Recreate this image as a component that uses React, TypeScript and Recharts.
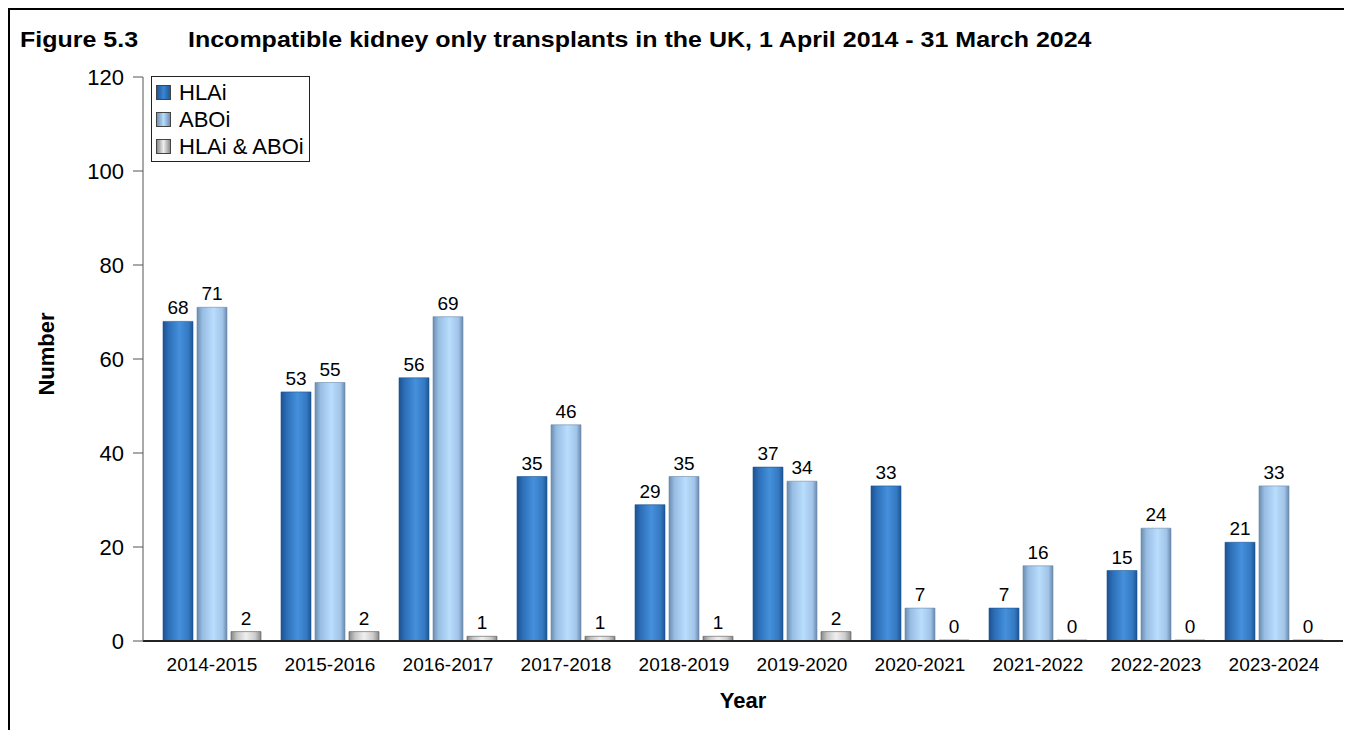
import React from "react";
import { BarChart, Bar, XAxis, YAxis, LabelList, Legend } from "recharts";

const years = [
  "2014-2015", "2015-2016", "2016-2017", "2017-2018", "2018-2019",
  "2019-2020", "2020-2021", "2021-2022", "2022-2023", "2023-2024",
];
const hlai = [68, 53, 56, 35, 29, 37, 33, 7, 15, 21];
const aboi = [71, 55, 69, 46, 35, 34, 7, 16, 24, 33];
const both = [2, 2, 1, 1, 1, 2, 0, 0, 0, 0];
const yTicks = [0, 20, 40, 60, 80, 100, 120];
const seriesOrder = ["hlai", "aboi", "both"];

const data = years.map((year, i) => ({ year, hlai: hlai[i], aboi: aboi[i], both: both[i] }));

const FONT = "'Liberation Sans', Arial, sans-serif";

const swatch: Record<string, string> = {
  hlai: "linear-gradient(90deg,#1d5797,#3a85d2 50%,#1f5a98)",
  aboi: "linear-gradient(90deg,#6f90b3,#b8dcfc 50%,#6f8fb0)",
  both: "linear-gradient(90deg,#8a8a8a,#eeeeee 50%,#8c8c8c)",
};

const renderLegend = (props: any) => {
  const items = [...(props.payload || [])].sort(
    (a: any, b: any) => seriesOrder.indexOf(a.dataKey) - seriesOrder.indexOf(b.dataKey)
  );
  return (
    <div style={{ border: "1px solid #222", background: "#fff", padding: "2px 5px 1px 4px", whiteSpace: "nowrap" }}>
      {items.map((p: any) => (
        <div key={p.dataKey} style={{ display: "flex", alignItems: "center", height: 27, fontSize: 22, color: "#000", fontFamily: FONT }}>
          <span style={{ width: 13, height: 13, border: "1px solid #444", background: swatch[p.dataKey], marginRight: 8, display: "inline-block" }} />
          {p.value}
        </div>
      ))}
    </div>
  );
};

export default function App() {
  return (
    <div style={{ position: "relative", width: 1344, height: 722, fontFamily: FONT, background: "#fff" }}>
      <div style={{ position: "absolute", left: -1, top: -1, right: 0, bottom: 0, borderTop: "3px solid #000", borderLeft: "3px solid #000" }} />
      <div style={{ position: "absolute", left: 12, top: 19, fontSize: 25, fontWeight: "bold", whiteSpace: "nowrap", transform: "scaleY(0.86)", transformOrigin: "left top" }}>
        <span style={{ display: "inline-block", width: 168 }}>Figure 5.3</span>
        <span>Incompatible kidney only transplants in the UK, 1 April 2014 - 31 March 2024</span>
      </div>
      <div style={{ position: "absolute", left: 39 - 60, top: 346 - 13, width: 120, textAlign: "center", fontSize: 22, fontWeight: "bold", transform: "rotate(-90deg)" }}>
        Number
      </div>
      <div style={{ position: "absolute", left: 735 - 60, top: 680, width: 120, textAlign: "center", fontSize: 22, fontWeight: "bold" }}>
        Year
      </div>
      <BarChart
        width={1344}
        height={722}
        data={data}
        margin={{ top: 69, right: 9, bottom: 29, left: 0 }}
        barSize={30}
        barGap={4}
        style={{ position: "absolute", left: 0, top: 0 }}
      >
        <defs>
          <linearGradient id="gHlai" x1="0" y1="0" x2="1" y2="0">
            <stop offset="0" stopColor="#1b5290" />
            <stop offset="0.18" stopColor="#2c6db6" />
            <stop offset="0.55" stopColor="#4590dc" />
            <stop offset="0.85" stopColor="#3479c2" />
            <stop offset="1" stopColor="#1d5594" />
          </linearGradient>
          <linearGradient id="gAboi" x1="0" y1="0" x2="1" y2="0">
            <stop offset="0" stopColor="#6a8bae" />
            <stop offset="0.18" stopColor="#98bde3" />
            <stop offset="0.55" stopColor="#b9ddfd" />
            <stop offset="0.85" stopColor="#a0c3e8" />
            <stop offset="1" stopColor="#6a8aab" />
          </linearGradient>
          <linearGradient id="gBoth" x1="0" y1="0" x2="1" y2="0">
            <stop offset="0" stopColor="#888" />
            <stop offset="0.2" stopColor="#c6c6c6" />
            <stop offset="0.5" stopColor="#efefef" />
            <stop offset="0.8" stopColor="#cdcdcd" />
            <stop offset="1" stopColor="#8a8a8a" />
          </linearGradient>
        </defs>
        <XAxis
          dataKey="year"
          padding={{ left: 10, right: 10 }}
          height={60}
          tickLine={false}
          tickSize={8}
          tickMargin={9}
          axisLine={{ stroke: "#222", strokeWidth: 2 }}
          tick={{ fill: "#000", fontSize: 19, fontFamily: FONT }}
          interval={0}
        />
        <YAxis
          width={135}
          domain={[0, 120]}
          ticks={yTicks}
          interval={0}
          tickSize={10}
          tickMargin={9}
          axisLine={{ stroke: "#555" }}
          tickLine={{ stroke: "#555" }}
          tick={{ fill: "#000", fontSize: 22, fontFamily: FONT }}
        />
        <Legend
          verticalAlign="middle"
          align="center"
          layout="vertical"
          content={renderLegend}
          wrapperStyle={{ position: "absolute", left: 143, top: 68, width: "auto", height: "auto" }}
        />
        <Bar dataKey="hlai" name="HLAi" fill="url(#gHlai)" stroke="#1d5594" strokeWidth={0.6} minPointSize={1} isAnimationActive={false}>
          <LabelList dataKey="hlai" position="top" offset={7} fill="#000" fontSize={19} fontFamily={FONT} />
        </Bar>
        <Bar dataKey="aboi" name="ABOi" fill="url(#gAboi)" stroke="#6a8aab" strokeWidth={0.6} minPointSize={1} isAnimationActive={false}>
          <LabelList dataKey="aboi" position="top" offset={7} fill="#000" fontSize={19} fontFamily={FONT} />
        </Bar>
        <Bar dataKey="both" name="HLAi & ABOi" fill="url(#gBoth)" stroke="#555" strokeWidth={0.6} minPointSize={1} isAnimationActive={false}>
          <LabelList dataKey="both" position="top" offset={7} fill="#000" fontSize={19} fontFamily={FONT} />
        </Bar>
      </BarChart>
    </div>
  );
}
